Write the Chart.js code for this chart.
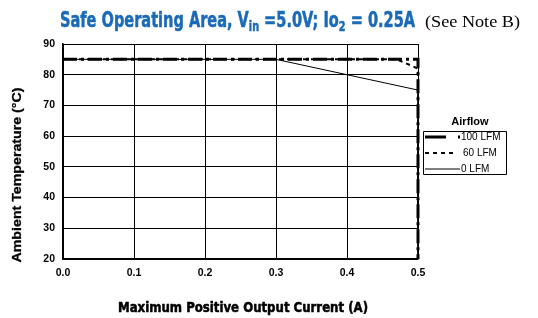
<!DOCTYPE html>
<html><head><meta charset="utf-8">
<script src="https://cdn.jsdelivr.net/npm/chart.js@4/dist/chart.umd.min.js"></script>
<style>html,body{margin:0;padding:0;background:#fff}#wrap{width:538px;height:318px;position:relative}</style>
</head><body><div id="wrap"><canvas id="c" width="538" height="318"></canvas></div>
<script>
const xTicks = [0, 0.1, 0.2, 0.3, 0.4, 0.5];
const yTicks = [20, 30, 40, 50, 60, 70, 80, 90];
const seriesNames = ['100 LFM', '60 LFM', '0 LFM'];
const lfm100X = [0, 0.5, 0.5];
const lfm100Y = [85, 85, 20];
const lfm60X = [0, 0.47, 0.5, 0.5];
const lfm60Y = [85, 85, 82, 20];
const lfm0X = [0, 0.3, 0.5, 0.5];
const lfm0Y = [85, 85, 75, 20];

function pts(xs, ys){ return xs.map((x,i)=>({x:x, y:ys[i]})); }

function fitText(ctx, text, cx, y, w, align, stroke){
  const m = ctx.measureText(text).width;
  const s = w / m;
  ctx.save();
  ctx.translate(cx, y);
  ctx.scale(s, 1);
  ctx.textAlign = align || 'center';
  ctx.fillText(text, 0, 0);
  if (stroke){ ctx.lineWidth = stroke; ctx.strokeStyle = ctx.fillStyle; ctx.strokeText(text, 0, 0); }
  ctx.restore();
}

const decor = {
  id: 'decor',
  afterDraw(chart){
    const ctx = chart.ctx;
    ctx.save();
    // Title
    const mainFont = 'bold 21px "DejaVu Sans Condensed", "DejaVu Sans", sans-serif';
    const subFont = 'bold 14px "DejaVu Sans Condensed", "DejaVu Sans", sans-serif';
    const segs = [
      {t:'Safe Operating Area, V'}, {t:'in', sub:true}, {t:' =5.0V; Io'}, {t:'2', sub:true}, {t:' = 0.25A'}
    ];
    let total = 0;
    segs.forEach(s=>{ ctx.font = s.sub ? subFont : mainFont; s.w = ctx.measureText(s.t).width; total += s.w; });
    const target = 355, sc = target/total;
    ctx.fillStyle = '#1a6ab8';
    ctx.strokeStyle = '#1a6ab8';
    ctx.lineWidth = 0.5;
    ctx.lineJoin = 'round';
    ctx.textBaseline = 'alphabetic';
    ctx.textAlign = 'left';
    ctx.save();
    ctx.translate(60, 27);
    ctx.scale(sc, 1);
    let x = 0;
    segs.forEach(s=>{ ctx.font = s.sub ? subFont : mainFont; ctx.fillText(s.t, x, s.sub ? 4 : 0); ctx.strokeText(s.t, x, s.sub ? 4 : 0); x += s.w; });
    ctx.restore();
    ctx.fillStyle = '#000';
    ctx.font = '17px "Liberation Serif", serif';
    ctx.textAlign = 'left';
    const sw = ctx.measureText('(See Note B)').width;
    ctx.save(); ctx.translate(425, 27); ctx.scale(95/sw, 1); ctx.fillText('(See Note B)', 0, 0); ctx.restore();

    // X axis title
    ctx.font = 'bold 14px "DejaVu Sans Condensed", "DejaVu Sans", sans-serif';
    ctx.textBaseline = 'middle';
    ctx.lineJoin = 'round';
    fitText(ctx, 'Maximum Positive Output Current (A)', 243, 308, 250, 'center', 0.5);

    // Y axis title
    ctx.save();
    ctx.translate(17, 175);
    ctx.rotate(-Math.PI/2);
    ctx.font = 'bold 13px "Liberation Sans", Arial, sans-serif';
    fitText(ctx, 'Ambient Temperature (°C)', 0, 0, 175, 'center', 0.3);
    ctx.restore();

    // Legend
    ctx.font = 'bold 11px "Liberation Sans", Arial, sans-serif';
    ctx.textAlign = 'center';
    ctx.fillText('Airflow', 470, 122);
    ctx.strokeStyle = '#000'; ctx.lineWidth = 1;
    ctx.strokeRect(423.5, 131.5, 83, 43);
    const ds = chart.data.datasets;
    const rows = [137, 153, 169];
    ctx.font = '10px "Liberation Sans", Arial, sans-serif';
    ctx.textAlign = 'left';
    rows.forEach((ry, i)=>{
      const d = ds[i];
      ctx.save();
      ctx.strokeStyle = '#000';
      ctx.lineWidth = d.borderWidth;
      ctx.setLineDash(i===1 ? [4,4] : []);
      ctx.beginPath();
      if (i === 0){ ctx.moveTo(425, ry); ctx.lineTo(446, ry); ctx.moveTo(458, ry); ctx.lineTo(460, ry); }
      else if (i === 1){ ctx.moveTo(425, ry); ctx.lineTo(455, ry); }
      else { ctx.moveTo(425, ry); ctx.lineTo(460, ry); }
      ctx.stroke();
      ctx.restore();
      ctx.fillStyle = '#000';
      ctx.fillText(seriesNames[i], i===0 ? 461 : (i===1 ? 463 : 461), ry);
    });
    ctx.restore();
  }
};

new Chart(document.getElementById('c'), {
  type: 'scatter',
  data: {
    datasets: [
      {label: seriesNames[0], data: pts(lfm100X, lfm100Y), showLine: true, borderColor: '#000', borderWidth: 3, borderDash: [14,4,3,4], pointRadius: 0, clip: false},
      {label: seriesNames[1], data: pts(lfm60X, lfm60Y), showLine: true, borderColor: '#000', borderWidth: 2, borderDash: [4,4], pointRadius: 0, clip: false},
      {label: seriesNames[2], data: pts(lfm0X, lfm0Y), showLine: true, borderColor: '#000', borderWidth: 1, pointRadius: 0, clip: false}
    ]
  },
  options: {
    responsive: false,
    animation: false,
    devicePixelRatio: 1,
    layout: {padding: {left: 0, right: 120, top: 44, bottom: 0}},
    plugins: {legend: {display: false}, title: {display: false}, tooltip: {enabled: false}},
    scales: {
      x: {
        type: 'linear', min: 0, max: 0.5,
        afterBuildTicks: s => { s.ticks = xTicks.map(v=>({value:v})); },
        afterFit: s => { s.height = 59; },
        ticks: {callback: v => Number(v).toFixed(1), color: '#000', padding: 8, font: {family: '"Liberation Sans", Arial, sans-serif', weight: 'bold', size: 10.5}, maxRotation: 0},
        grid: {color: '#000', drawTicks: false, tickLength: 0, lineWidth: 1},
        border: {color: '#000', width: 1.5}
      },
      y: {
        type: 'linear', min: 20, max: 90,
        afterBuildTicks: s => { s.ticks = yTicks.map(v=>({value:v})); },
        afterFit: s => { s.width = 63; },
        ticks: {color: '#000', padding: 8, font: {family: '"Liberation Sans", Arial, sans-serif', weight: 'bold', size: 10.5}},
        grid: {color: '#000', drawTicks: false, tickLength: 0, lineWidth: 1},
        border: {color: '#000', width: 1.5}
      }
    }
  },
  plugins: [decor]
});
</script></body></html>
